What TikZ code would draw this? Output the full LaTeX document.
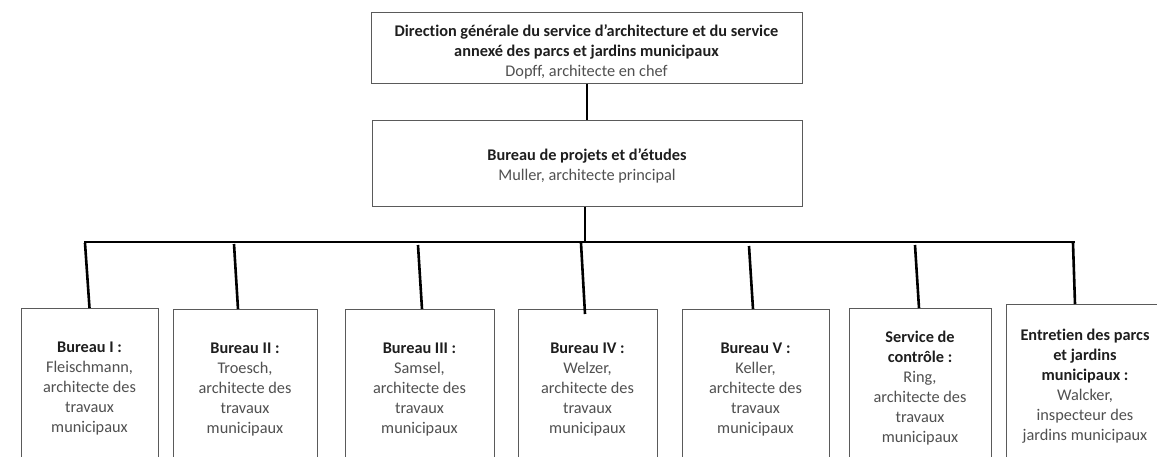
\documentclass[tikz,border=0pt]{standalone}
\usepackage{fontspec}
\setmainfont{Carlito}[Ligatures=NoCommon]
\definecolor{boxline}{HTML}{5A5A5A}
\definecolor{boldtxt}{HTML}{1E1E1E}
\definecolor{regtxt}{HTML}{505050}
\tikzset{
  orgbox/.style={draw=boxline, line width=1pt, fill=white, align=center, inner sep=2pt,
    font=\fontsize{16.3}{20}\selectfont, text=regtxt},
  link/.style={line width=2.6pt, black},
}
\newcommand{\hd}[1]{\textbf{\textcolor{boldtxt}{#1}}}
\begin{document}
\begin{tikzpicture}[x=1pt,y=-1pt]
\clip (0,0) rectangle (1157,456);
\fill[white] (0,0) rectangle (1157,456);
% top boxes
\node[orgbox, minimum width=431, minimum height=71] (dir) at (586.5,47.5)
  {\rule{0pt}{20pt}\hd{Direction générale du service d’architecture et du service}\\
   \hd{annexé des parcs et jardins municipaux}\\
   Dopff, architecte en chef};
\node[orgbox, minimum width=430, minimum height=86] (proj) at (587,163)
  {\rule{0pt}{18pt}\hd{Bureau de projets et d’études}\\ Muller, architecte principal};
\draw[link] ([xshift=0.5]dir.south) -- ([xshift=0]proj.north);
\coordinate (bar) at (585,242);
\draw[link] ([xshift=-2]proj.south) -- (bar);
\coordinate (barL) at (84,242);
\coordinate (barR) at (1075,242);
\draw[link] (barL) -- (barR);
% bottom boxes
\node[orgbox, anchor=north, minimum width=137, minimum height=160] (b1) at (89.5,308)
  {\hd{Bureau I :}\\ Fleischmann,\\ architecte des\\ travaux\\ municipaux};
\node[orgbox, anchor=north, minimum width=144, minimum height=160] (b2) at (245,309)
  {\hd{Bureau II :}\\ Troesch,\\ architecte des\\ travaux\\ municipaux};
\node[orgbox, anchor=north, minimum width=149, minimum height=160] (b3) at (419.5,309)
  {\hd{Bureau III :}\\ Samsel,\\ architecte des\\ travaux\\ municipaux};
\node[orgbox, anchor=north, minimum width=139, minimum height=160] (b4) at (587.5,309)
  {\hd{Bureau IV :}\\ Welzer,\\ architecte des\\ travaux\\ municipaux};
\node[orgbox, anchor=north, minimum width=147, minimum height=160] (b5) at (755.5,309)
  {\hd{Bureau V :}\\ Keller,\\ architecte des\\ travaux\\ municipaux};
\node[orgbox, anchor=north, minimum width=142, minimum height=160] (b6) at (920,308)
  {\hd{Service de}\\ \hd{contrôle :}\\ Ring,\\ architecte des\\ travaux\\ municipaux};
\node[orgbox, anchor=north, minimum width=158, minimum height=164] (b7) at (1085,304)
  {\hd{Entretien des parcs}\\ \hd{et jardins}\\ \hd{municipaux :}\\ Walcker,\\ inspecteur des\\ jardins municipaux};
% branch coordinates on the bar
\coordinate (t1) at (85,243);
\coordinate (t2) at (234,244);
\coordinate (t3) at (418,245);
\coordinate (t4) at (581,243);
\coordinate (t5) at (749,246);
\coordinate (t6) at (915,245);
\coordinate (t7) at (1073,243);
\draw[link] (t1) -- (b1.north);
\draw[link] (t2) -- ([xshift=-7]b2.north);
\draw[link] (t3) -- ([xshift=2.5]b3.north);
\draw[link] (t4) -- ([xshift=-2.5,yshift=-5]b4.north);
\draw[link] (t5) -- ([xshift=-2.5]b5.north);
\draw[link] (t6) -- ([xshift=-1]b6.north);
\draw[link] (t7) -- ([xshift=-10]b7.north);
\end{tikzpicture}
\end{document}
